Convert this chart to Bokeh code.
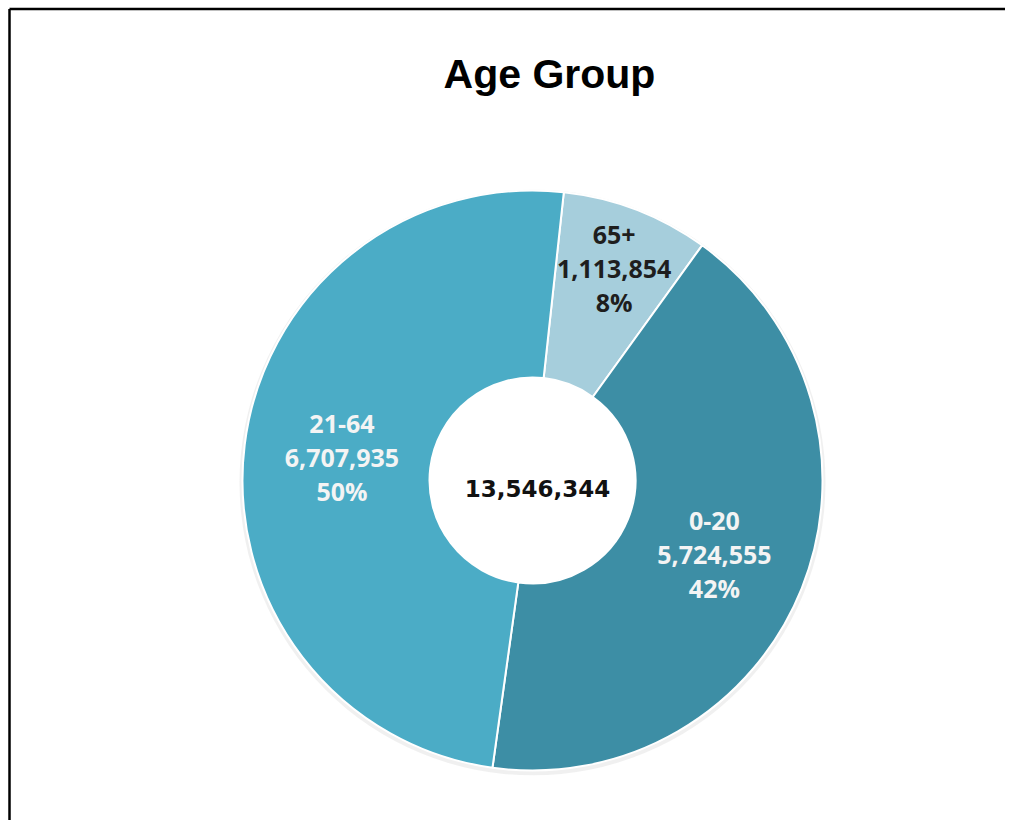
import math
from bokeh.plotting import figure
from bokeh.models import Range1d, ColumnDataSource
from bokeh.core.properties import value
from bokeh.embed import file_html
from bokeh.resources import INLINE

# ---- data ----
title_text = "Age Group"
categories = ["65+", "0-20", "21-64"]          # clockwise order from the top
values = [1113854, 5724555, 6707935]
colors = ["#A6CEDC", "#3D8EA5", "#4BACC6"]
label_colors = ["#1E1E1E", "#F4F4F4", "#F4F4F4"]

# ---- layout (screen pixels, y measured from top via H - y) ----
W, H = 1005, 820
cx, cy = 532, H - 480
r_out, r_in = 290, 103
start_deg = 6.2              # first slice starts this many degrees clockwise from 12 o'clock
label_r = [228, 196, 192]

total = sum(values)
starts, ends, lx, ly, texts = [], [], [], [], []
acc = start_deg
for cat, v, lr in zip(categories, values, label_r):
    span = 360.0 * v / total
    s_deg, e_deg = acc, acc + span
    starts.append(math.radians(90 - s_deg))
    ends.append(math.radians(90 - e_deg))
    mid = math.radians(90 - (s_deg + e_deg) / 2)
    lx.append(cx + lr * math.cos(mid))
    ly.append(cy + lr * math.sin(mid))
    texts.append(f"{cat}\n{v:,}\n{round(100 * v / total)}%")
    acc = e_deg

src = ColumnDataSource(dict(start=starts, end=ends, color=colors,
                            x=lx, y=ly, text=texts, tcolor=label_colors))

p = figure(width=W, height=H, output_backend="svg", toolbar_location=None,
           x_range=Range1d(0, W), y_range=Range1d(0, H), min_border=0,
           background_fill_color="white", border_fill_color="white")
p.axis.visible = False
p.grid.visible = False
p.outline_line_color = None

# frame (top and left edges visible)
fx, fy = 9, H - 8.5
p.segment(x0=[fx, fx], y0=[fy, 0], x1=[W + 5, fx], y1=[fy, fy],
          line_color="black", line_width=2.5)

# faint shadow ring
p.annulus(x=[cx], y=[cy - 2], inner_radius=r_out - 2, outer_radius=r_out + 3,
          fill_color="#E6E6E6", fill_alpha=0.6, line_color=None)

p.annular_wedge(x=cx, y=cy, inner_radius=r_in, outer_radius=r_out,
                start_angle="start", end_angle="end", direction="clock",
                fill_color="color", line_color="white", line_width=2, source=src)

p.text(x="x", y="y", text="text", text_color="tcolor", source=src,
       text_font=value("Open Sans"), text_font_style="bold", text_font_size="25px",
       text_align="center", text_baseline="middle", text_line_height=1.0)

p.text(x=[cx + 5], y=[cy - 8], text=[f"{total:,}"], text_color="#111111",
       text_font=value("DejaVu Sans"), text_font_style="bold", text_font_size="23px",
       text_align="center", text_baseline="middle")

p.text(x=[549], y=[H - 73], text=[title_text], text_color="black",
       text_font=value("Liberation Sans"), text_font_style="bold", text_font_size="41px",
       text_align="center", text_baseline="middle")

open("out.html", "w").write(file_html(p, INLINE))
